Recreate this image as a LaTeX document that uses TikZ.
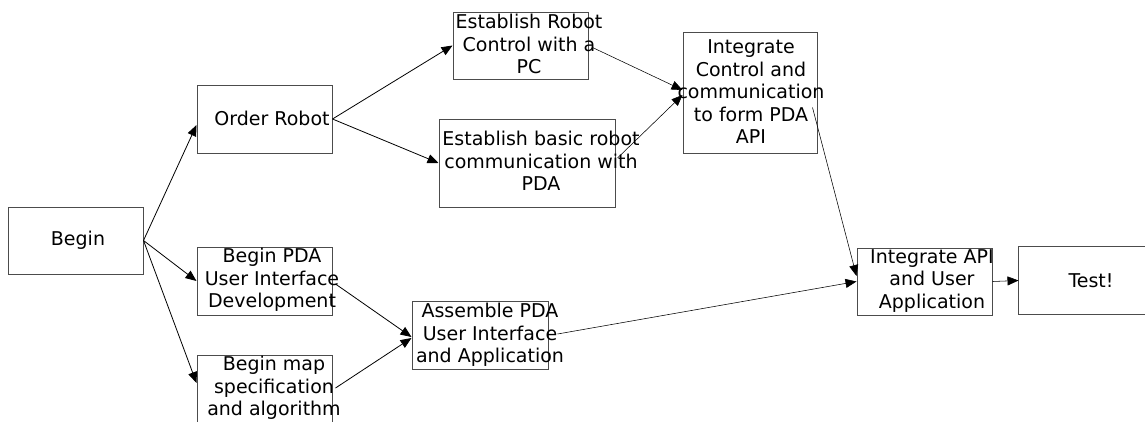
\documentclass[tikz,border=0pt]{standalone}
\usepackage{fontspec}
\setmainfont{DejaVu Sans}
\usetikzlibrary{arrows.meta}
\begin{document}
\begin{tikzpicture}[x=1pt,y=-1pt,
  task/.style={draw=black!70,line width=1pt,fill=none,inner sep=0pt,
    minimum width=#1},
  task/.default=135,
  edge box/.style={draw=black!70,line width=1pt},
  txt/.style={align=center,inner sep=0pt,
    font=\fontsize{19}{22.5}\selectfont},
  link/.style={-{Triangle[length=11pt,width=9pt]},line width=0.8pt},
  thin link/.style={link,line width=0.55pt}]
\useasboundingbox (0,0) rectangle (1145,421);
\clip (0,0) rectangle (1145,421);

% task boxes
\node[task,minimum height=67] (begin) at (75.5,240.5) {};
\node[task,minimum height=68] (ord) at (264.5,119) {};
\node[task,minimum height=68] (pda) at (264.5,281) {};
\node[task,minimum height=68] (map) at (264.5,389) {};
\node[task=136,minimum height=68] (asm) at (480,335) {};
\node[task,minimum height=67] (ctl) at (520.5,45.5) {};
\node[task=176,minimum height=88] (com) at (527,163) {};
\node[task=134,minimum height=121] (intc) at (750,92.5) {};
\node[task,minimum height=67] (api) at (924.5,281.5) {};
% the last box runs off the right margin: only three sides are drawn
\node[task=160,minimum height=67,draw=none] (tst) at (1099,280.5) {};
\draw[edge box] (tst.north east) -- (tst.north west) -- (tst.south west) -- (tst.south east);

% task labels
\node[txt] (tbegin) at (78,240) {Begin};
\node[txt] (tord) at (272,118) {Order Robot};
\node[txt] (tpda) at (272,280) {Begin PDA\\User Interface\\Development};
\node[txt] (tmap) at (274,388) {Begin map\\specification\\and algorithm};
\node[txt] (tasm) at (490,335) {Assemble PDA\\User Interface\\and Application};
\node[txt] (tctl) at (529,44) {Establish Robot\\Control with a\\PC};
\node[txt] (tcom) at (541,161) {Establish basic robot\\communication with\\PDA};
\node[txt] (tintc) at (751,92) {Integrate\\Control and\\communication\\to form PDA\\API};
\node[txt] (tapi) at (932,281) {Integrate API\\and User\\Application};
\node[txt] (ttst) at (1091,281) {Test!};

% dependencies
\draw[link] (begin.east) -- ([yshift=-6pt]ord.west);
\draw[link] (begin.east) -- (pda.west);
\draw[link] (begin.east) -- ([yshift=6pt]map.west);
\draw[link] (ord.east) -- (ctl.west);
\draw[link] (ord.east) -- (com.west);
\draw[thin link] ([xshift=4pt,yshift=-2pt]ctl.east) -- ([yshift=2.5pt]intc.west);
\draw[thin link] ([xshift=2pt,yshift=5pt]com.east) -- ([yshift=-2.5pt]intc.west);
\draw[link] ([xshift=3pt,yshift=-3pt]pda.east) -- ([yshift=-2pt]asm.west);
\draw[link] ([xshift=3pt,yshift=1pt]map.east) -- ([yshift=-3pt]asm.west);
\draw[thin link] ([xshift=9pt,yshift=1pt]asm.east) -- (api.west);
\draw[thin link] ([xshift=-5pt,yshift=-15pt]intc.east) -- ([yshift=5.5pt]api.west);
\draw[thin link] (api.east) -- (tst.west);
\end{tikzpicture}
\end{document}
